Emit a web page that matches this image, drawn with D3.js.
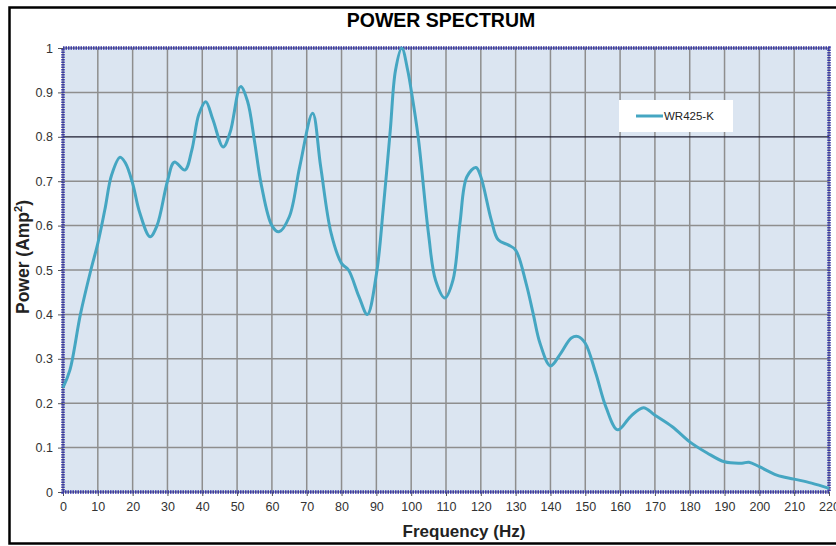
<!DOCTYPE html>
<html>
<head>
<meta charset="utf-8">
<script src="https://cdn.jsdelivr.net/npm/d3@7"></script>
<style>
  body { margin: 0; background: #fff; }
  text { font-family: Arial, "Liberation Sans", sans-serif; }
</style>
</head>
<body>
<svg id="chart"></svg>
<script>
const WIDTH = 836;
const HEIGHT = 546;

const freq = [0, 2, 5, 8, 10, 12, 14, 16.4, 18, 20, 22, 25, 27, 30, 32, 35, 37, 39, 41, 43, 46, 48, 51, 53, 55, 57,
  60, 62, 65, 68, 71.7, 74, 77, 80, 82, 85, 87.4, 90, 92, 94, 95.5, 97.3, 99, 100, 102, 105, 107, 109.7,
  112, 114, 116, 118.6, 120, 123, 125, 128, 130, 133, 135, 137, 140, 143, 146, 148, 150, 153, 156, 159.3,
  163, 166.7, 170, 175, 180, 185, 190, 195, 197, 200, 205, 210, 215, 220];
const power = [0.235, 0.275, 0.40, 0.50, 0.56, 0.635, 0.715, 0.754, 0.74, 0.695, 0.63, 0.575, 0.60, 0.70, 0.743, 0.725, 0.77, 0.85, 0.879, 0.84, 0.777, 0.81, 0.913, 0.88, 0.79, 0.69,
  0.60, 0.586, 0.62, 0.733, 0.853, 0.733, 0.583, 0.515, 0.50, 0.44, 0.40, 0.49, 0.64, 0.815, 0.95, 1.0, 0.95, 0.905, 0.80, 0.58, 0.477, 0.437,
  0.477, 0.605, 0.71, 0.731, 0.71, 0.613, 0.568, 0.556, 0.545, 0.47, 0.403, 0.335, 0.284, 0.313, 0.347, 0.35, 0.335, 0.268, 0.19, 0.14,
  0.17, 0.19, 0.173, 0.147, 0.113, 0.088, 0.068, 0.065, 0.067, 0.057, 0.038, 0.029, 0.02, 0.008];
const xTicks = d3.range(0, 221, 10);
const yTicks = d3.range(0, 1.01, 0.1);
const seriesName = 'WR425-K';

const margin = { left: 63, right: 7, top: 48, bottom: 54 };
const plotW = WIDTH - margin.left - margin.right;
const plotH = HEIGHT - margin.top - margin.bottom;

const svg = d3.select('#chart')
    .attr('width', WIDTH)
    .attr('height', HEIGHT);

// outer frame
svg.append('rect')
    .attr('x', 9.5).attr('y', 7.5)
    .attr('width', 840).attr('height', 536)
    .attr('fill', '#fff')
    .attr('stroke', '#000')
    .attr('stroke-width', 2.5);

const x = d3.scaleLinear().domain([0, 220]).range([0, plotW]);
const y = d3.scaleLinear().domain([0, 1]).range([plotH, 0]);

const g = svg.append('g')
    .attr('transform', `translate(${margin.left},${margin.top})`);

g.append('rect')
    .attr('width', plotW).attr('height', plotH)
    .attr('fill', '#dbe5f1');

// grid
g.append('g')
    .selectAll('line')
    .data(xTicks)
    .join('line')
    .attr('x1', d => x(d)).attr('x2', d => x(d))
    .attr('y1', 0).attr('y2', plotH)
    .attr('stroke', '#8e8e8e')
    .attr('stroke-width', 1.5);

g.append('g')
    .selectAll('line')
    .data(yTicks)
    .join('line')
    .attr('x1', 0).attr('x2', plotW)
    .attr('y1', d => y(d)).attr('y2', d => y(d))
    .attr('stroke', d => Math.abs(d - 0.8) < 1e-6 ? '#1c1c30' : '#8e8e8e')
    .attr('stroke-width', d => Math.abs(d - 0.8) < 1e-6 ? 1.3 : 1.5);

// axes
const xAxis = g.append('g')
    .attr('transform', `translate(0,${plotH})`)
    .call(d3.axisBottom(x).tickValues(xTicks).tickSize(4).tickPadding(6).tickFormat(d3.format('d')));
const yAxis = g.append('g')
    .call(d3.axisLeft(y).tickValues(yTicks).tickSize(5).tickPadding(5).tickFormat(d => d3.format('.1~f')(d)));

[xAxis, yAxis].forEach(a => {
    a.select('.domain').remove();
    a.selectAll('.tick line').attr('stroke', '#555');
    a.selectAll('.tick text')
        .attr('fill', '#333')
        .style('font-size', '12.5px');
});

// plot border
g.append('rect')
    .attr('width', plotW).attr('height', plotH)
    .attr('fill', 'none')
    .attr('stroke', '#3a3aa6')
    .attr('stroke-width', 3.5)
    .attr('stroke-dasharray', '1.5 1');

// series
const line = d3.line()
    .x((d, i) => x(freq[i]))
    .y(d => y(d))
    .curve(d3.curveCatmullRom.alpha(0.5));

g.append('path')
    .datum(power)
    .attr('d', line)
    .attr('fill', 'none')
    .attr('stroke', '#45a6c2')
    .attr('stroke-width', 3)
    .attr('stroke-linejoin', 'round');

// legend
const legend = svg.append('g').attr('transform', 'translate(619,100)');
legend.append('rect')
    .attr('width', 114).attr('height', 32)
    .attr('fill', '#fff');
legend.append('line')
    .attr('x1', 17).attr('x2', 44)
    .attr('y1', 16).attr('y2', 16)
    .attr('stroke', '#45a6c2')
    .attr('stroke-width', 3);
legend.append('text')
    .attr('x', 45).attr('y', 20)
    .style('font-size', '11.5px')
    .attr('fill', '#222')
    .text(seriesName);

// titles
svg.append('text')
    .attr('x', 441).attr('y', 27)
    .attr('text-anchor', 'middle')
    .style('font-size', '19.5px')
    .style('font-weight', 'bold')
    .text('POWER SPECTRUM');

svg.append('text')
    .attr('x', 464).attr('y', 537)
    .attr('text-anchor', 'middle')
    .style('font-size', '17px')
    .style('font-weight', 'bold')
    .attr('fill', '#222')
    .text('Frequency (Hz)');

const yTitle = svg.append('text')
    .attr('transform', 'translate(29,257) rotate(-90)')
    .attr('text-anchor', 'middle')
    .style('font-size', '17.5px')
    .style('font-weight', 'bold')
    .attr('fill', '#222');
yTitle.append('tspan').text('Power  (Amp');
yTitle.append('tspan').attr('dy', -7).style('font-size', '11px').text('2');
yTitle.append('tspan').attr('dy', 7).text(')');
</script>
</body>
</html>
